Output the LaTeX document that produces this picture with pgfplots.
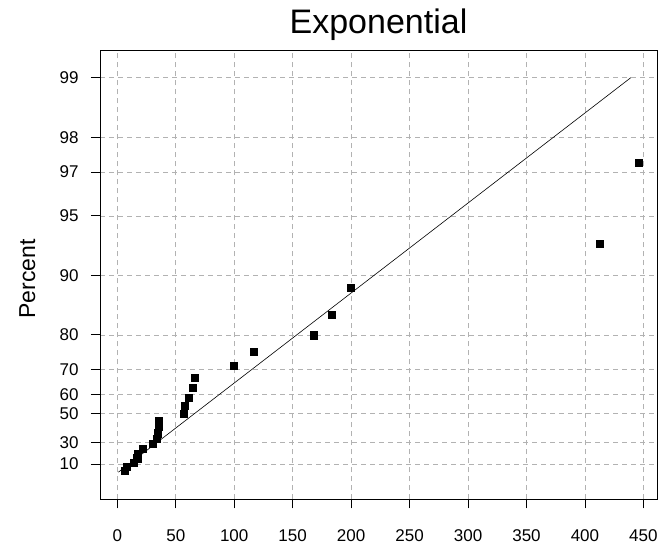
\documentclass[border=0pt]{standalone}
\usepackage{pgfplots}
\pgfplotsset{compat=1.18}
\usepackage{pgfplotstable}
\usepackage{fontspec}
\setmainfont{Liberation Sans}

\pgfplotstableread{
x p
6.0 2.99
8.0 7.26
13.7 11.54
17.1 15.81
17.5 20.09
21.4 24.36
30.5 28.63
33.7 32.91
34.6 37.18
35.1 41.45
35.7 45.73
56.5 50.00
57.7 54.27
61.3 58.55
64.2 62.82
66.2 67.09
99.6 71.37
116.9 75.64
168.3 79.91
183.1 84.19
199.7 88.46
412.4 93.1
446.1 97.3
}\datatable

\pgfplotstableread{
x p
0.96 1
439.2 99
}\fitline

\begin{document}
\begin{tikzpicture}
\path[use as bounding box] (0,0) rectangle (659pt,544pt);
\begin{axis}[
  at={(100pt,44.7pt)}, anchor=south west,
  scale only axis,
  width=557.3pt, height=449.3pt,
  xmin=-14.8, xmax=461.9,
  ymin=-0.306, ymax=4.928,
  xtick={0,50,...,450},
  ytick={0.1053605,0.3566749,0.6931472,0.9162907,1.2039728,1.6094379,2.3025851,2.9957323,3.5065579,3.9120230,4.6051702},
  yticklabels={10,30,50,60,70,80,90,95,97,98,99},
  /pgf/number format/assume math mode=true,
  xtick pos=bottom, ytick pos=left,
  tick align=outside,
  major tick length=9pt,
  tick style={black, line width=0.8pt},
  axis line style={black, line width=0.8pt},
  grid=major,
  major grid style={gray!60, dash pattern=on 5pt off 4pt, line width=0.6pt},
  ticklabel style={font=\fontsize{17}{20}\selectfont},
  xticklabel style={yshift=-18pt},
  yticklabel style={xshift=-9pt},
  clip=false,
]
\addplot[black, line width=0.6pt] table[x=x, y expr={-ln(1-\thisrow{p}/100)}] {\fitline};
\addplot[only marks, mark=square*, mark size=3.6pt, black] table[x=x, y expr={-ln(1-\thisrow{p}/100)}] {\datatable};
\end{axis}
\node[anchor=base, font=\fontsize{34}{40}\selectfont] at (378.5pt,510.7pt) {Exponential};
\node[anchor=base, rotate=90, font=\fontsize{23}{27}\selectfont] at (35pt,265pt) {Percent};
\end{tikzpicture}
\end{document}
